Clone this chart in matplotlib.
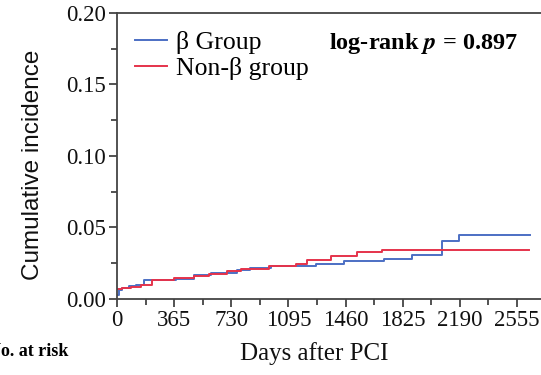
import matplotlib.pyplot as plt
from matplotlib.ticker import MultipleLocator, FormatStrFormatter

plt.rcParams['mathtext.fontset'] = 'stix'

# step points (day, cumulative incidence)
beta_days = [0, 11, 32, 75, 117, 170, 373, 490, 597, 767, 852, 980,
             1268, 1449, 1705, 1886, 2078, 2184, 2642]
beta_vals = [0.003, 0.006, 0.0077, 0.0089, 0.010, 0.0135, 0.0142, 0.017,
             0.018, 0.020, 0.022, 0.023, 0.0247, 0.0268, 0.0282, 0.0305,
             0.0403, 0.045, 0.045]

nonbeta_days = [0, 32, 85, 149, 224, 362, 490, 587, 704, 789, 970, 1140,
                1215, 1364, 1534, 1690, 2636]
nonbeta_vals = [0.007, 0.0077, 0.0084, 0.010, 0.013, 0.0147, 0.0163,
                0.0177, 0.0198, 0.0212, 0.0228, 0.0245, 0.0275, 0.0303,
                0.0326, 0.0345, 0.0345]

xticks = [0, 365, 730, 1095, 1460, 1825, 2190, 2555]

serif = ['Liberation Serif', 'DejaVu Serif']
blue = '#4c6fc4'
red = '#e5334b'
axcol = '#444444'

fig = plt.figure(figsize=(5.41, 3.75), dpi=100)
ax = fig.add_axes([0.2168, 0.2027, 0.7832, 0.7627])

ax.step(beta_days, beta_vals, where='post', color=blue, lw=1.4, label='\u03b2 Group')
ax.step(nonbeta_days, nonbeta_vals, where='post', color=red, lw=1.4, label='Non-\u03b2 group')

ax.set_xlim(0, 2710)
ax.set_ylim(0, 0.20)
ax.set_xticks(xticks)
ax.xaxis.set_minor_locator(MultipleLocator(182.5))
ax.yaxis.set_major_locator(MultipleLocator(0.05))
ax.yaxis.set_minor_locator(MultipleLocator(0.025))
ax.yaxis.set_major_formatter(FormatStrFormatter('%.2f'))

for s in ['left', 'bottom', 'top']:
    ax.spines[s].set_color(axcol)
    ax.spines[s].set_linewidth(1.3)
ax.spines['right'].set_visible(False)
ax.tick_params(which='major', direction='out', length=6, width=1.3, color=axcol,
               labelsize=16.5, labelcolor='#111111', pad=2)
ax.tick_params(which='minor', direction='out', length=4, width=1.3, color=axcol)
for lab in ax.get_xticklabels() + ax.get_yticklabels():
    lab.set_family(serif)

ax.set_ylabel('Cumulative incidence', fontsize=17.5, family=['Liberation Sans', 'DejaVu Sans'],
              color='#111111')
ax.yaxis.set_label_coords(-0.172, 0.47)
ax.set_xlabel('Days after PCI', fontsize=18, family=serif, color='#111111')
ax.xaxis.set_label_coords(0.464, -0.15)

leg = ax.legend(loc='upper left', bbox_to_anchor=(0.0, 1.0), frameon=False,
                prop={'family': serif, 'size': 18.5}, handlelength=1.25,
                handletextpad=0.35, labelspacing=0.1, borderaxespad=0.3)

ax.text(0.50, 0.895, r'log-rank $\boldsymbol{p}$ = 0.897', transform=ax.transAxes,
        fontsize=17.5, fontweight='bold', family=serif, ha='left', va='center')

fig.text(-12 / 541, 1 - 352 / 375, 'No. at risk', fontsize=13, fontweight='bold',
         family=serif, ha='left', va='center')

fig.savefig('out.png', dpi=100)
